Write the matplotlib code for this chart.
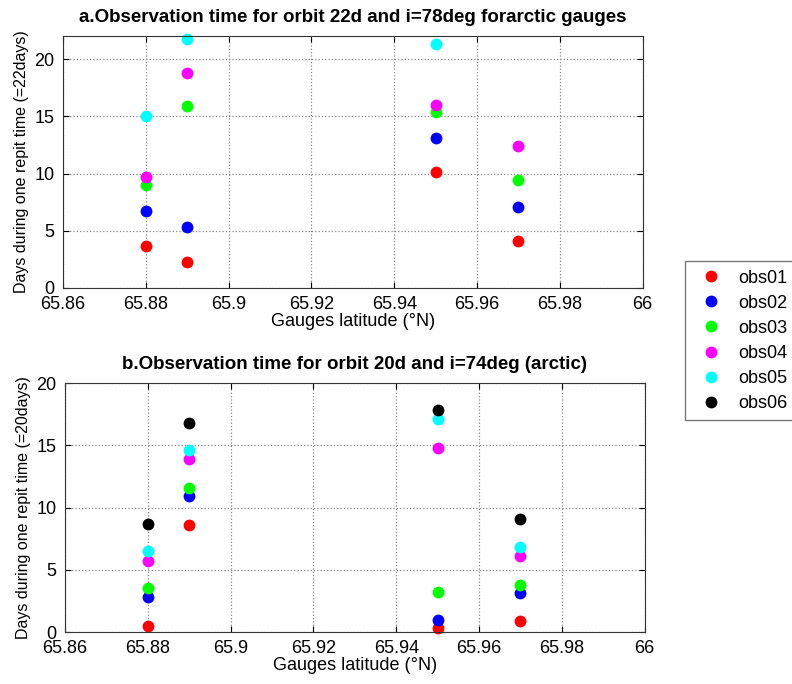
import numpy as np
import matplotlib.pyplot as plt

plt.rcParams['font.family'] = ['Liberation Sans', 'DejaVu Sans']

# gauges latitude (deg N)
lat = [65.88, 65.89, 65.95, 65.97]

# a. orbit 22d, i=78deg
obs22 = {
    'obs01': [3.7, 2.3, 10.1, 4.1],
    'obs02': [6.7, 5.3, 13.1, 7.1],
    'obs03': [9.0, 15.9, 15.4, 9.4],
    'obs04': [9.7, 18.8, 16.0, 12.4],
    'obs05': [15.0, 21.8, 21.3, np.nan],
}

# b. orbit 20d, i=74deg
obs20 = {
    'obs01': [0.5, 8.6, 0.3, 0.9],
    'obs02': [2.8, 10.9, 1.0, 3.1],
    'obs03': [3.5, 11.6, 3.2, 3.8],
    'obs04': [5.7, 13.9, 14.8, 6.1],
    'obs05': [6.5, 14.6, 17.1, 6.8],
    'obs06': [8.7, 16.8, 17.8, 9.1],
}

colors = {'obs01': '#ff0000', 'obs02': '#0000ff', 'obs03': '#00ff00',
          'obs04': '#ff00ff', 'obs05': '#00ffff', 'obs06': '#000000'}

fig = plt.figure(figsize=(7.92, 6.84), dpi=100)
ax1 = fig.add_axes([0.0795, 0.579, 0.732, 0.368])
ax2 = fig.add_axes([0.082, 0.076, 0.732, 0.364])


def style(ax, ymax, yticks):
    ax.set_xlim(65.86, 66)
    ax.set_ylim(0, ymax)
    ax.set_xticks([65.86, 65.88, 65.9, 65.92, 65.94, 65.96, 65.98, 66])
    ax.set_xticklabels(['65.86', '65.88', '65.9', '65.92', '65.94', '65.96', '65.98', '66'])
    ax.set_yticks(yticks)
    ax.grid(True, ls=':', color='#888888', lw=0.9)
    ax.tick_params(direction='in', top=True, right=True, labelsize=13, length=4, pad=6)
    for s in ax.spines.values():
        s.set_color('#333333')
    ax.set_xlabel('Gauges latitude (°N)', fontsize=13, labelpad=0)


handles = []
for name, vals in obs22.items():
    ax1.plot(lat, vals, 'o', color=colors[name], ms=7.5, clip_on=False)
for name, vals in obs20.items():
    h, = ax2.plot(lat, vals, 'o', color=colors[name], ms=7.5, clip_on=False, label=name)
    handles.append(h)

style(ax1, 22, [0, 5, 10, 15, 20])
style(ax2, 20, [0, 5, 10, 15, 20])

ax1.set_title('a.Observation time for orbit 22d and i=78deg forarctic gauges',
              fontsize=13.5, fontweight='bold', pad=10)
ax2.set_title('b.Observation time for orbit 20d and i=74deg (arctic)',
              fontsize=13.5, fontweight='bold', pad=10)
ax1.set_ylabel('Days during one repit time (=22days)', fontsize=11.5, labelpad=4)
ax2.set_ylabel('Days during one repit time (=20days)', fontsize=11.5, labelpad=4)

leg = fig.legend(handles=handles, loc='upper left', bbox_to_anchor=(0.853, 0.631),
                 fontsize=13, frameon=True, fancybox=False, borderpad=0.45,
                 labelspacing=0.45, handletextpad=0.5, handlelength=2.0)
leg.get_frame().set_edgecolor('#555555')
leg.get_frame().set_linewidth(1.0)

fig.savefig('out.png', dpi=100)
